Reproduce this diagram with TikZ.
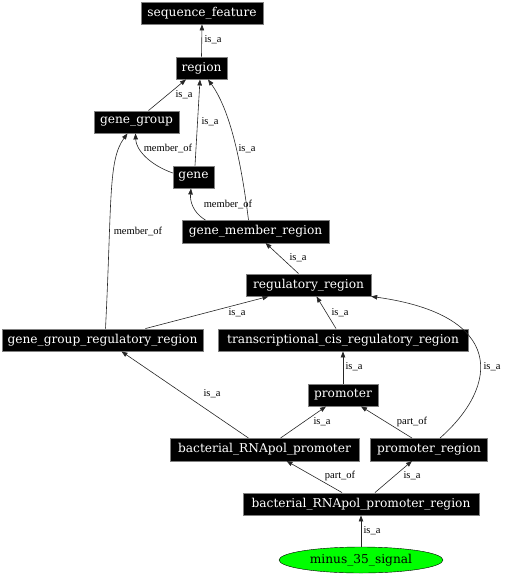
\documentclass[tikz,border=0pt]{standalone}
\usepackage{fontspec}
\usepackage{tikz}
\usetikzlibrary{arrows.meta, shapes.geometric}
\newfontfamily\termfont{DejaVu Serif}
\newfontfamily\relfont{Liberation Serif}

\begin{document}
\begin{tikzpicture}[x=1pt, y=-1pt,
    term/.style={draw=gray, fill=black, text=white, inner xsep=1pt, inner ysep=0pt,
        minimum height=22.5pt, font=\termfont\fontsize{12.2}{14}\selectfont},
    rel/.style={font=\relfont\fontsize{10.5}{12}\selectfont, inner sep=0pt},
    edge/.style={draw=black!85, line width=0.6pt, -{Triangle[length=6pt, width=4.5pt]}}]
    \useasboundingbox (0,0) rectangle (504,576);
    % Draw the term boxes
    \foreach \n/\x/\y/\w/\t in {seqfeat/202/13/122/sequence\_feature, region/201.5/68/51/region,
        genegroup/136.5/122/85/gene\_group, gene/193.5/177/41/gene,
        genemember/255.5/231.5/147/gene\_member\_region, regulatory/308.5/285/125/regulatory\_region,
        groupreg/102.5/340/201/gene\_group\_regulatory\_region,
        cisreg/343/340/250/transcriptional\_cis\_regulatory\_region,
        promoter/343/395/70/promoter, bactprom/264.5/449.5/189/bacterial\_RNApol\_promoter,
        promreg/429/449.5/117/promoter\_region,
        bactpromreg/361/504/236/bacterial\_RNApol\_promoter\_region} {
        \node[term, minimum width=\w] (\n) at (\x,\y) {\t};
    }
    % The queried term
    \node[ellipse, draw=black, fill=green, minimum width=164pt, minimum height=26pt,
        inner sep=0pt, font=\termfont\fontsize{12.2}{14}\selectfont] (minus35) at (361,560) {minus\_35\_signal};
    % Relations (arrow points to the parent)
    \draw[edge] (region.north) -- (seqfeat.south) node[rel] at (213,40) {is\_a};
    \draw[edge] ([xshift=12]genegroup.north) -- ([xshift=-15.5]region.south) node[rel] at (184,95) {is\_a};
    \draw[edge] ([xshift=1.5]gene.north) -- ([xshift=-1.5]region.south) node[rel] at (210,122) {is\_a};
    \draw[edge] ([xshift=-7]genemember.north) .. controls (241,160) and (230,110) .. ([xshift=6.5]region.south)
        node[rel] at (247,149) {is\_a};
    \draw[edge] ([yshift=4]gene.west) .. controls (150,165) and (136,150) .. ([xshift=-1]genegroup.south)
        node[rel] at (168,148) {member\_of};
    \draw[edge] ([xshift=-50]genemember.north) .. controls (192,212) and (190,200) .. ([xshift=-2.5]gene.south)
        node[rel] at (228,204) {member\_of};
    \draw[edge] ([xshift=3]groupreg.north) .. controls (112,200) and (108,160) .. ([xshift=-9]genegroup.south)
        node[rel] at (138,231) {member\_of};
    \draw[edge] ([xshift=-10]regulatory.north) -- ([xshift=10]genemember.south) node[rel] at (298,258) {is\_a};
    \draw[edge] ([xshift=43]groupreg.north) -- ([xshift=-40]regulatory.south) node[rel] at (237,313) {is\_a};
    \draw[edge] ([xshift=-7]cisreg.north) -- ([xshift=8]regulatory.south) node[rel] at (340,313) {is\_a};
    \draw[edge] (promoter.north) -- (cisreg.south) node[rel] at (354,367) {is\_a};
    \draw[edge] ([xshift=11]promreg.north) .. controls (500,385) and (505,315) .. (regulatory.south east)
        node[rel] at (492,367) {is\_a};
    \draw[edge] ([xshift=-16]bactprom.north) -- ([xshift=19]groupreg.south) node[rel] at (212,394) {is\_a};
    \draw[edge] ([xshift=16]bactprom.north) -- ([xshift=-17]promoter.south) node[rel] at (322,422) {is\_a};
    \draw[edge] ([xshift=-17]promreg.north) -- ([xshift=18]promoter.south) node[rel] at (412,422) {part\_of};
    \draw[edge] ([xshift=-19]bactpromreg.north) -- ([xshift=22]bactprom.south) node[rel] at (340,476) {part\_of};
    \draw[edge] ([xshift=14]bactpromreg.north) -- ([xshift=-17]promreg.south) node[rel] at (412,476) {is\_a};
    \draw[edge] (minus35.north) -- (bactpromreg.south) node[rel] at (372,531) {is\_a};
\end{tikzpicture}
\end{document}
